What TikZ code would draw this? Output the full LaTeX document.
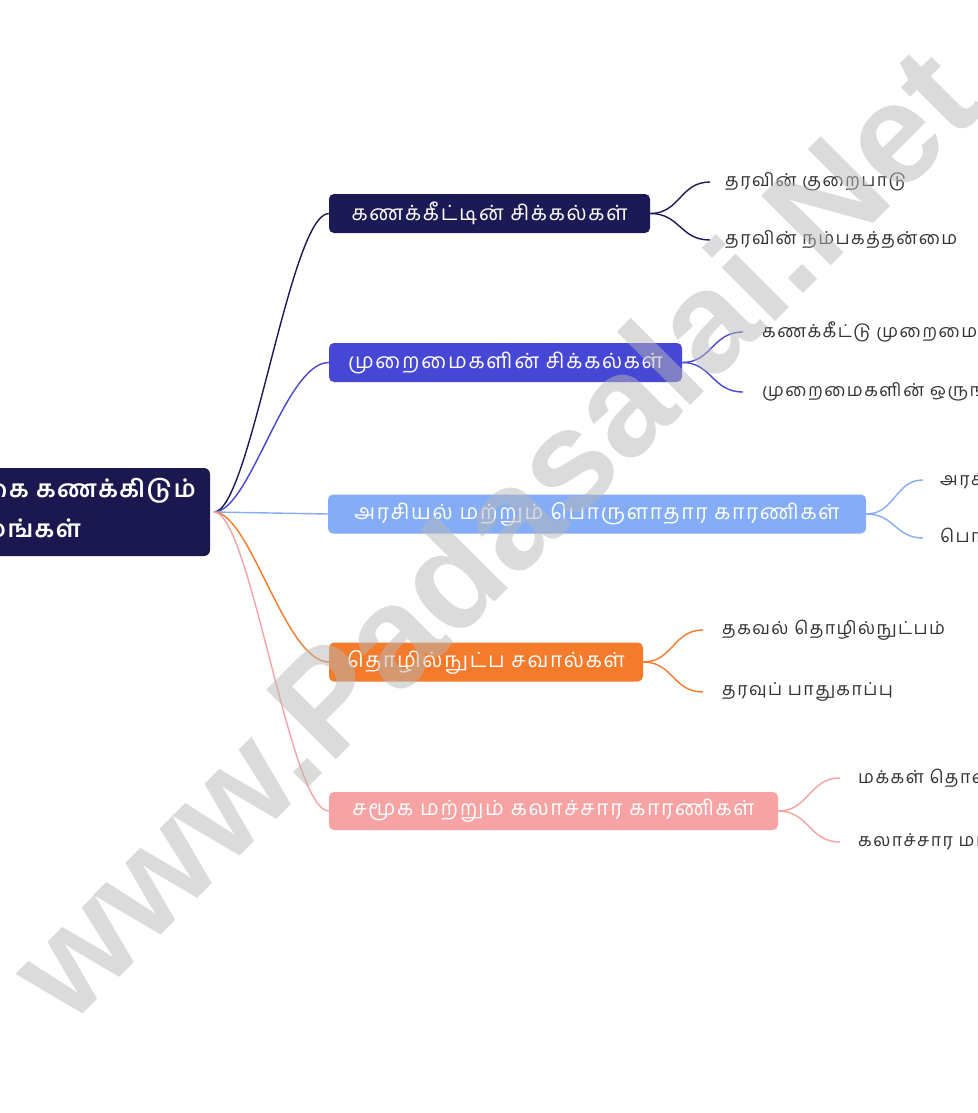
\documentclass[tikz,border=0pt]{standalone}
\usepackage{fontspec}
\newfontfamily\tamil[Script=Tamil,LetterSpace=8]{Hind Madurai}
\newfontfamily\tamilroot[Script=Tamil,LetterSpace=6]{Hind Madurai}
\newfontfamily\wmfont{Liberation Sans}
\definecolor{cRoot}{HTML}{1B1850}
\definecolor{cA}{HTML}{1C1A54}
\definecolor{cB}{HTML}{4747D5}
\definecolor{cC}{HTML}{85ADF7}
\definecolor{cD}{HTML}{F47B2B}
\definecolor{cE}{HTML}{F7A3A3}
\definecolor{cLeaf}{HTML}{333333}
\definecolor{cWm}{HTML}{B8B8B8}
\tikzset{
  branchbox/.style={rounded corners=5pt, inner sep=0pt, text=white, font=\tamil\fontsize{21}{24}\selectfont, minimum height=39pt},
  leaftext/.style={anchor=west, inner sep=0pt, text=cLeaf, font=\tamil\fontsize{17.8}{20}\selectfont},
  roottext/.style={anchor=east, inner sep=0pt, text=white, font=\tamilroot\bfseries\fontsize{24}{28}\selectfont},
  conn/.style={line width=1.4pt},
}
\begin{document}
\begin{tikzpicture}[x=1pt,y=-1pt]
\useasboundingbox (0,0) rectangle (977,1113);
\clip (0,0) rectangle (977,1113);
\fill[white] (0,0) rectangle (977,1113);
% root
\node[fill=cRoot, rounded corners=6pt, minimum width=510pt, minimum height=88pt, inner sep=0pt] (root) at (-45,512) {};
\node[roottext] (rootA) at (196,491) {மக்கள்தொகை கணக்கிடும்};
\node[roottext] (rootB) at (81,530) {சிரமங்கள்};
\coordinate (hub) at (214,512);
% branches
\node[branchbox, fill=cA, minimum width=321pt] (b1) at (489.5,213.5) {கணக்கீட்டின் சிக்கல்கள்};
\node[branchbox, fill=cB, minimum width=353pt] (b2) at (505.5,362.5) {முறைமைகளின் சிக்கல்கள்};
\node[branchbox, fill=cC, minimum width=538pt] (b3) at (597,514) {அரசியல் மற்றும் பொருளாதார காரணிகள்};
\node[branchbox, fill=cD, minimum width=314pt] (b4) at (486,662) {தொழில்நுட்ப சவால்கள்};
\node[branchbox, fill=cE, minimum width=449pt, minimum height=38pt] (b5) at (553.5,811) {சமூக மற்றும் கலாச்சார காரணிகள்};
% root connectors
\draw[conn, cA] (hub) .. controls (250,512) and (290,213.5) .. (b1.west);
\draw[conn, cB] (hub) .. controls (250,512) and (285,362.5) .. (b2.west);
\draw[conn, cC] (hub) -- (b3.west);
\draw[conn, cD] (hub) .. controls (250,512) and (285,662) .. (b4.west);
\draw[conn, cE] (hub) .. controls (250,512) and (290,811) .. (b5.west);
% leaves
\coordinate (l1a) at (710,182); \coordinate (l1b) at (710,240);
\coordinate (l2a) at (743,332); \coordinate (l2b) at (743,392);
\coordinate (l3a) at (923,480); \coordinate (l3b) at (923,538);
\coordinate (l4a) at (703,630); \coordinate (l4b) at (703,692);
\coordinate (l5a) at (840,778); \coordinate (l5b) at (840,842);
\draw[conn, cA] (b1.east) .. controls (680,213.5) and (680,182) .. (l1a);
\draw[conn, cA] (b1.east) .. controls (680,213.5) and (680,240) .. (l1b);
\draw[conn, cB] (b2.east) .. controls (712,362.5) and (712,332) .. (l2a);
\draw[conn, cB] (b2.east) .. controls (712,362.5) and (712,392) .. (l2b);
\draw[conn, cC] (b3.east) .. controls (895,514) and (895,480) .. (l3a);
\draw[conn, cC] (b3.east) .. controls (895,514) and (895,538) .. (l3b);
\draw[conn, cD] (b4.east) .. controls (673,662) and (673,630) .. (l4a);
\draw[conn, cD] (b4.east) .. controls (673,662) and (673,692) .. (l4b);
\draw[conn, cE] (b5.east) .. controls (809,811) and (809,778) .. (l5a);
\draw[conn, cE] (b5.east) .. controls (809,811) and (809,842) .. (l5b);
\node[leaftext] (t1a) at (725,182) {தரவின் குறைபாடு};
\node[leaftext] (t1b) at (725,240) {தரவின் நம்பகத்தன்மை};
\node[leaftext] (t2a) at (762,332) {கணக்கீட்டு முறைமைகள்};
\node[leaftext] (t2b) at (762,392) {முறைமைகளின் ஒருங்கிணைப்பு};
\node[leaftext] (t3a) at (940,480) {அரசியல் தலையீடு};
\node[leaftext] (t3b) at (940,538) {பொருளாதார நிலை};
\node[leaftext] (t4a) at (722,630) {தகவல் தொழில்நுட்பம்};
\node[leaftext] (t4b) at (722,692) {தரவுப் பாதுகாப்பு};
\node[leaftext] (t5a) at (858,778) {மக்கள் தொகை இடம்பெயர்வு};
\node[leaftext] (t5b) at (858,842) {கலாச்சார மரபுகள்};
% watermark
\node[rotate=45, text=cWm, opacity=0.5, font=\wmfont\bfseries\fontsize{143}{150}\selectfont, inner sep=0pt] (wm) at (492,532) {www.Padasalai.Net};
\end{tikzpicture}
\end{document}
